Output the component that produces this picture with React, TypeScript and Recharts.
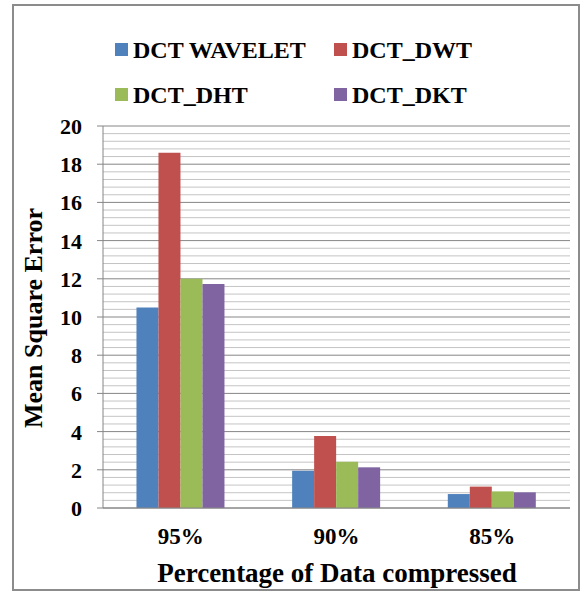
import {
  BarChart,
  Bar,
  XAxis,
  YAxis,
  CartesianGrid,
  Legend,
  Label,
  ReferenceLine,
} from "recharts";

const categories = ["95%", "90%", "85%"];
const dctWavelet = [10.5, 1.95, 0.73];
const dctDwt = [18.6, 3.77, 1.12];
const dctDht = [12.0, 2.42, 0.87];
const dctDkt = [11.73, 2.13, 0.82];

const seriesNames = ["DCT WAVELET", "DCT_DWT", "DCT_DHT", "DCT_DKT"];
const seriesKeys = ["wavelet", "dwt", "dht", "dkt"];
const seriesColors = ["#4F81BD", "#C0504D", "#9BBB59", "#8064A2"];

const yTicks = [0, 2, 4, 6, 8, 10, 12, 14, 16, 18, 20];
// minor gridlines every 0.4 (the major ones are drawn by the grid)
const minorTicks = Array.from({ length: 51 }, (_, i) => Math.round(i * 4) / 10).filter(
  (t) => t % 2 !== 0
);

const data = categories.map((c, i) => ({
  name: c,
  wavelet: dctWavelet[i],
  dwt: dctDwt[i],
  dht: dctDht[i],
  dkt: dctDkt[i],
}));

const font = "Liberation Serif";

function LegendBox() {
  const cols = [115, 334];
  const rows = [50, 95];
  return (
    <svg width={582} height={110} style={{ display: "block" }}>
      {seriesNames.map((n, i) => {
        const x = cols[i % 2];
        const cy = rows[Math.floor(i / 2)] - 37;
        return (
          <g key={n}>
            <rect x={x} y={cy - 7} width={13} height={13} fill={seriesColors[i]} />
            <text
              x={x + 18}
              y={cy + 8}
              style={{ fontFamily: font, fontWeight: 700, fontSize: 24 }}
              fill="#000"
            >
              {n}
            </text>
          </g>
        );
      })}
    </svg>
  );
}

function YTick(props: any) {
  const { x, y, payload } = props;
  return (
    <text
      x={x}
      y={y}
      dy={8}
      textAnchor="end"
      style={{ fontFamily: font, fontWeight: 700, fontSize: 22 }}
      fill="#000"
    >
      {payload.value}
    </text>
  );
}

function XTick(props: any) {
  const { x, y, payload } = props;
  return (
    <text
      x={x}
      y={y}
      dy={12}
      textAnchor="middle"
      style={{ fontFamily: font, fontWeight: 700, fontSize: 23 }}
      fill="#000"
    >
      {payload.value}
    </text>
  );
}

export default function App() {
  return (
    <div style={{ position: "absolute", left: 0, top: 0, width: 582, height: 592 }}>
      <div
        style={{
          position: "absolute",
          left: 12,
          top: 4,
          width: 568,
          height: 587,
          border: "2px solid #8c8c8c",
          boxSizing: "border-box",
        }}
      />
      <BarChart
        width={582}
        height={592}
        data={data}
        margin={{ top: 126, right: 12, bottom: 0, left: 0 }}
        barCategoryGap="21.5%"
        barGap={0}
        style={{ position: "absolute", left: 0, top: 0 }}
      >
        {minorTicks.map((t) => (
          <ReferenceLine
            key={t}
            y={t}
            stroke="#c4c4c4"
            strokeWidth={1}
            {...({ zIndex: -90 } as any)}
          />
        ))}
        <CartesianGrid vertical={false} stroke="#868686" />
        <XAxis
          dataKey="name"
          height={84}
          tickLine={false}
          axisLine={{ stroke: "#868686" }}
          tickMargin={18}
          tick={<XTick />}
        >
          <Label
            content={() => (
              <text
                x={337}
                y={582}
                textAnchor="middle"
                fontFamily={font}
                fontWeight="bold"
                fontSize={27}
                fill="#000"
              >
                Percentage of Data compressed
              </text>
            )}
          />
        </XAxis>
        <YAxis
          width={103}
          domain={[0, 20]}
          ticks={yTicks}
          interval={0}
          tickSize={6}
          tickMargin={15}
          tickLine={{ stroke: "#868686" }}
          axisLine={{ stroke: "#868686" }}
          tick={<YTick />}
        >
          <Label
            content={() => (
              <text
                x={42}
                y={318}
                transform="rotate(-90 42 318)"
                textAnchor="middle"
                fontFamily={font}
                fontWeight="bold"
                fontSize={26}
                fill="#000"
              >
                Mean Square Error
              </text>
            )}
          />
        </YAxis>
        <Legend
          layout="horizontal"
          verticalAlign="middle"
          align="center"
          wrapperStyle={{ top: 37, left: 0, width: 582 }}
          content={() => <LegendBox />}
        />
        {seriesKeys.map((k, i) => (
          <Bar
            key={k}
            dataKey={k}
            name={seriesNames[i]}
            fill={seriesColors[i]}
            isAnimationActive={false}
          />
        ))}
      </BarChart>
    </div>
  );
}
